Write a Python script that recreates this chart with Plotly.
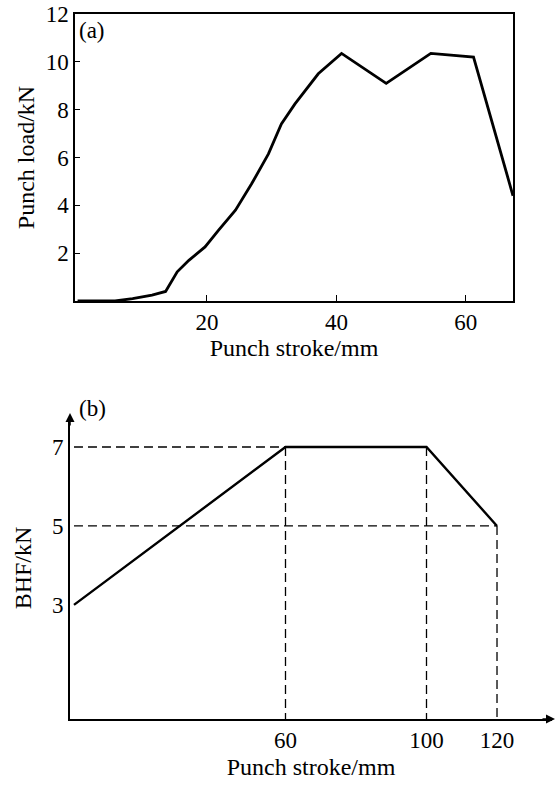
import plotly.graph_objects as go

# ---- Panel (a): punch load vs punch stroke ----
stroke_a = [0, 5.8, 8.5, 11.5, 13.6, 15.4, 17.2, 19.7, 21.8, 24.4, 26.9, 29.5,
            31.5, 33.6, 37.2, 40.8, 47.7, 54.6, 61.2, 67.3]
load_a = [0, 0, 0.1, 0.25, 0.4, 1.22, 1.7, 2.26, 2.96, 3.8, 4.9, 6.15,
          7.4, 8.24, 9.5, 10.35, 9.1, 10.35, 10.2, 4.4]
xticks_a = [20, 40, 60]
yticks_a = [2, 4, 6, 8, 10, 12]

# ---- Panel (b): blank holder force schedule ----
stroke_b = [0, 60, 100, 120]
bhf_b = [3, 7, 7, 5]
xticks_b = [60, 100, 120]
yticks_b = [3, 5, 7]
# dashed guide lines: (x0, y0, x1, y1)
guide_x0 = [0, 0, 60, 100, 120]
guide_y0 = [7, 5, 7, 7, 5]
guide_x1 = [60, 120, 60, 100, 120]
guide_y1 = [7, 5, 0, 0, 0]

W, H = 558, 787
FONT = "Liberation Serif"

fig = go.Figure()

fig.add_trace(go.Scatter(x=stroke_a, y=load_a, mode="lines",
                         line=dict(color="black", width=2.8),
                         xaxis="x", yaxis="y", showlegend=False))

yb_min = 0.11
for x0, y0, x1, y1 in zip(guide_x0, guide_y0, guide_x1, guide_y1):
    fig.add_trace(go.Scatter(x=[x0, x1], y=[y0, max(y1, yb_min)], mode="lines",
                             line=dict(color="black", width=1.3, dash="9px,5px"),
                             xaxis="x2", yaxis="y2", showlegend=False))

fig.add_trace(go.Scatter(x=stroke_b, y=bhf_b, mode="lines",
                         line=dict(color="black", width=2.4),
                         xaxis="x2", yaxis="y2", showlegend=False))

tickfont = dict(family=FONT, size=23, color="black")
titlefont = dict(family=FONT, size=24, color="black")

fig.update_layout(
    width=W, height=H,
    margin=dict(l=0, r=0, t=0, b=0, autoexpand=False),
    paper_bgcolor="white", plot_bgcolor="white",
    xaxis=dict(domain=[75 / W, 513 / W], range=[-0.4, 67.3], automargin=False,
               tickvals=xticks_a, ticks="inside", ticklen=6, tickwidth=1.3,
               tickcolor="black", showline=True, linecolor="black", linewidth=1.5,
               mirror=True, showgrid=False, zeroline=False, tickfont=tickfont,
               title=dict(text="Punch stroke/mm", font=titlefont, standoff=4),
               anchor="y"),
    yaxis=dict(domain=[1 - 301 / H, 1 - 14 / H], range=[0, 12], automargin=False,
               tickvals=yticks_a, ticks="inside", ticklen=5, tickwidth=1.3,
               tickcolor="black", showline=True, linecolor="black", linewidth=1.5,
               mirror=True, showgrid=False, zeroline=False, tickfont=tickfont,
               title=dict(text="Punch load/kN", font=titlefont, standoff=4),
               anchor="x"),
    xaxis2=dict(domain=[70 / W, 552 / W], range=[-1.13, 135.6], automargin=False,
                tickvals=xticks_b, ticks="", showline=True, linecolor="black",
                linewidth=1.6, showgrid=False, zeroline=False, tickfont=tickfont,
                title=dict(text="Punch stroke/mm", font=titlefont, standoff=6),
                anchor="y2"),
    yaxis2=dict(domain=[1 - 719 / H, 1 - 417 / H], range=[yb_min, 7.76], automargin=False,
                tickvals=yticks_b, ticks="", showline=True, linecolor="black",
                linewidth=1.6, showgrid=False, zeroline=False, tickfont=tickfont,
                title=dict(text="BHF/kN", font=titlefont, standoff=14),
                anchor="x2"),
    annotations=[
        dict(text="(a)", x=77 / W, y=1 - 30 / H, xref="paper", yref="paper",
             xanchor="left", yanchor="middle", showarrow=False, font=tickfont),
        dict(text="(b)", x=77 / W, y=1 - 408 / H, xref="paper", yref="paper",
             xanchor="left", yanchor="middle", showarrow=False, font=tickfont),
        dict(x=70 / W, y=1 - 413 / H, xref="paper", yref="paper", ax=0, ay=14,
             showarrow=True, arrowhead=2, arrowsize=1.2, arrowwidth=1.5,
             arrowcolor="black", text=""),
        dict(x=555 / W, y=1 - 719 / H, xref="paper", yref="paper", ax=-14, ay=0,
             showarrow=True, arrowhead=2, arrowsize=1.2, arrowwidth=1.5,
             arrowcolor="black", text=""),
    ],
)

fig.write_html("out.html")
